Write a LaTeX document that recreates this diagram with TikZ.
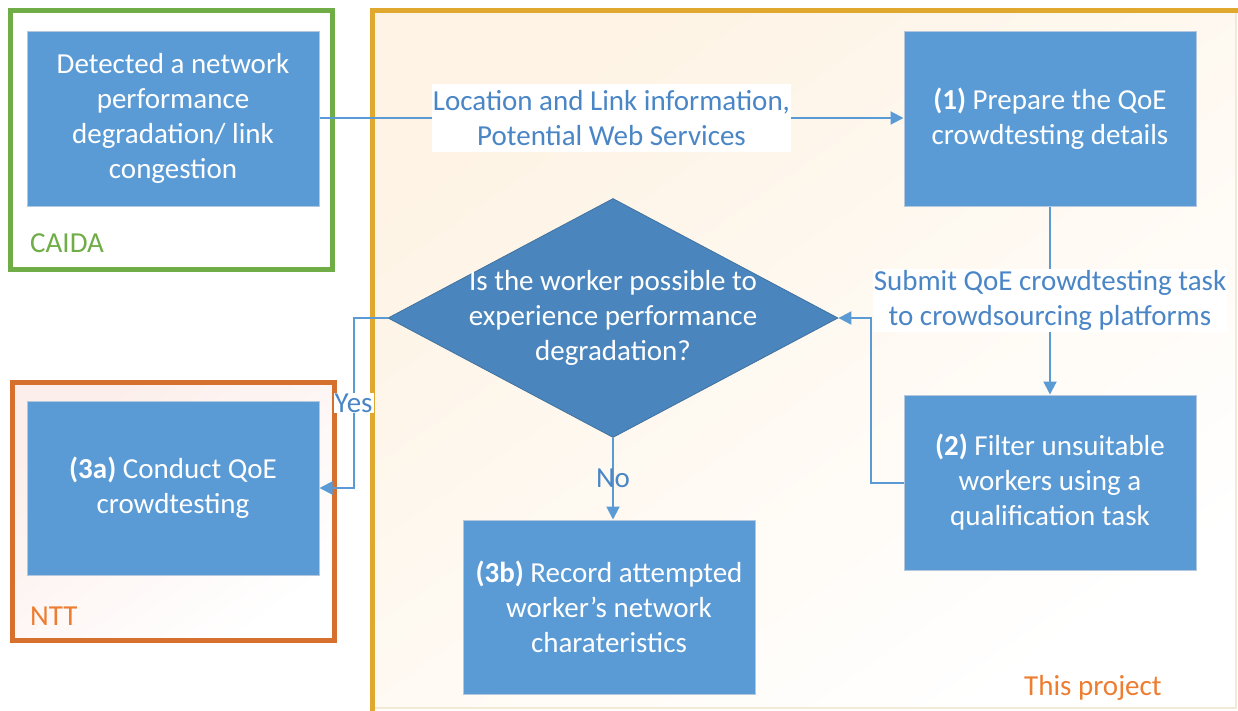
\documentclass[tikz,border=0pt]{standalone}
\usepackage{fontspec}
\setmainfont{Carlito}
\usetikzlibrary{shapes.geometric,arrows.meta}
\definecolor{boxblue}{HTML}{5B9BD5}
\definecolor{boxedge}{HTML}{B4C7DC}
\definecolor{dblue}{HTML}{4A86BD}
\definecolor{dedge}{HTML}{41729F}
\definecolor{lblue}{HTML}{4A86C6}
\definecolor{caida}{HTML}{70AD47}
\definecolor{nttframe}{HTML}{D5702E}
\definecolor{orangetxt}{HTML}{ED7D31}
\definecolor{gold}{HTML}{E0A82E}
\definecolor{pale}{HTML}{FEF3E4}
\definecolor{palepink}{HTML}{FCEEEA}
\definecolor{beige}{HTML}{F3EAD6}
\begin{document}
\begin{tikzpicture}[x=1pt,y=-1pt,
  every node/.style={font=\fontsize{29}{35}\selectfont},
  stepbox/.style={draw=boxedge, line width=1pt, fill=boxblue, text=white, align=center, inner sep=0pt},
  conn/.style={draw=boxblue, line width=2pt, -{Triangle[length=13pt,width=13pt]}},
  elabel/.style={fill=white, text=lblue, align=center, inner sep=2pt},
  grp/.style={text=#1, anchor=west, inner sep=0pt}]
\useasboundingbox (0,0) rectangle (1238,710);
% project frame
\shade[top color=pale, bottom color=white, shading angle=35] (372.5,10) rectangle (1236,708);
\draw[beige, line width=1.5pt] (1236,10) -- (1236,708) -- (372.5,708);
\draw[gold, line width=5pt] (1240,10) -- (372.5,10) -- (372.5,712);
\node[grp=orangetxt] (proj) at (1024,688) {This project};
% CAIDA frame
\draw[caida, line width=5pt, fill=white] (10.5,10) rectangle (332.5,269.5);
\node[grp=caida] (caidalbl) at (30,243) {CAIDA};
% NTT frame
\shade[top color=palepink, bottom color=white, shading angle=35] (12,382) rectangle (334.5,640);
\draw[nttframe, line width=5pt] (12,382) rectangle (334.5,640);
\node[grp=orangetxt] (nttlbl) at (30,616) {NTT};
% boxes
\node[stepbox, minimum width=292pt, minimum height=175pt] (det) at (173,118.5)
  {Detected a network\\performance\\degradation/ link\\congestion};
\node[stepbox, minimum width=292pt, minimum height=175pt] (s1) at (1050,118.5)
  {\textbf{(1)} Prepare the QoE\\crowdtesting details};
\node[stepbox, minimum width=292pt, minimum height=175pt] (s2) at (1050,482.5)
  {\textbf{(2)} Filter unsuitable\\workers using a\\qualification task};
\node[stepbox, minimum width=292pt, minimum height=174pt] (s3a) at (173,488)
  {\textbf{(3a)} Conduct QoE\\crowdtesting};
\node[stepbox, minimum width=292pt, minimum height=174pt] (s3b) at (609,607)
  {\textbf{(3b)} Record attempted\\worker’s network\\charateristics};
% decision
\node[diamond, minimum width=450pt, minimum height=239pt, inner sep=0pt,
  fill=dblue, draw=dedge, line width=0.8pt] (dq) at (613,318) {};
\node[text=white, align=center, inner sep=0pt] (dqtext) at (613,318)
  {Is the worker possible to\\experience performance\\degradation?};
% connectors
\draw[conn] (det.east |- 0,118) -- (s1.west |- 0,118)
  node[elabel, midway, inner ysep=6pt, inner xsep=1pt] (l1) {Location and Link information,\\Potential Web Services};
\draw[conn] (s1.south) -- (s2.north)
  node[elabel, midway, inner sep=1pt] (l2) {Submit QoE crowdtesting task\\to crowdsourcing platforms};
\draw[conn] (s2.west) -- ++(-33,0) |- (dq.east);
\draw[conn] (dq.west) -- ++(-34,0) |- (s3a.east)
  node[elabel, pos=0.25, inner sep=1pt] (yes) {Yes};
\draw[conn] (dq.south) -- (dq.south |- s3b.north)
  node[elabel, midway, fill=none, inner sep=1pt] (no) {No};
\end{tikzpicture}
\end{document}
